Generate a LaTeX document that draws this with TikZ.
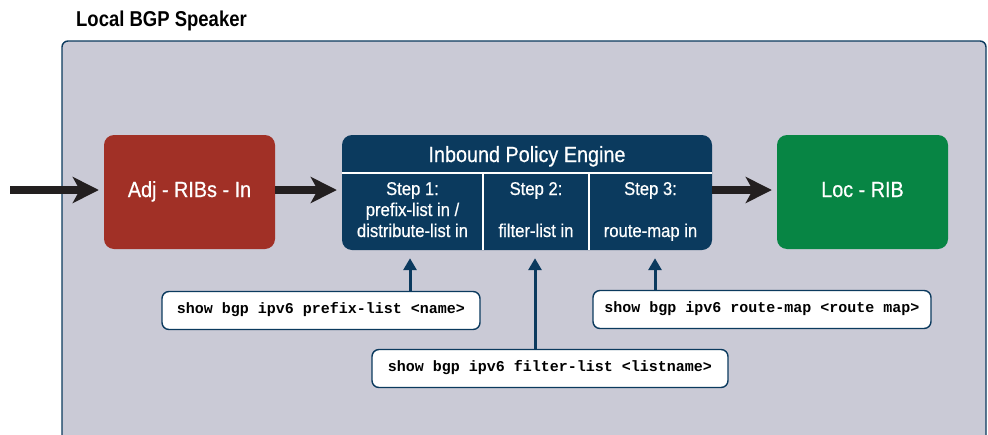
\documentclass[tikz,border=0pt]{standalone}
\usepackage{fontspec}
\setmainfont{Liberation Sans}[FakeStretch=0.9, FakeBold=0.6]
\newfontfamily\titlefont{Liberation Sans}[FakeStretch=0.86]
\newfontfamily\codefont{Liberation Mono}
\usetikzlibrary{arrows.meta}

\definecolor{panelfill}{HTML}{CACAD6}
\definecolor{navy}{HTML}{0B3A5E}
\definecolor{ribred}{HTML}{A13026}
\definecolor{ribgreen}{HTML}{078544}
\definecolor{arrowblack}{HTML}{231F20}

\tikzset{
  x=1pt, y=-1pt,
  ribbox/.style={rounded corners=10pt, inner sep=0pt, text=white,
    minimum width=171pt, minimum height=114pt,
    font=\fontsize{22}{24}\selectfont},
  cmdbox/.style={draw=navy, line width=1.4pt, fill=white, rounded corners=7pt,
    inner sep=0pt, minimum height=38pt, text height=9pt, text depth=3pt,
    font=\codefont\bfseries\fontsize{15}{17}\selectfont},
  steptext/.style={text=white, inner sep=0pt, anchor=base,
    font=\fontsize{18.5}{20}\selectfont},
  flow/.style={draw=arrowblack, line width=8pt,
    -{Stealth[length=26pt,width=26pt,inset=7pt]}, shorten >=5pt},
  query/.style={draw=navy, line width=3pt,
    -{Triangle[length=12pt,width=13pt]}, shorten >=8pt},
}

\begin{document}
\begin{tikzpicture}
\useasboundingbox (0,0) rectangle (988,434);

% speaker panel
\node[anchor=base west, inner sep=0pt, font=\titlefont\bfseries\fontsize{21.5}{24}\selectfont]
  (title) at (76,26) {Local BGP Speaker};
\draw[draw=navy, fill=panelfill, line width=1.4pt, rounded corners=6pt]
  (62,41) rectangle (986,450);

% RIBs
\node[ribbox, fill=ribred] (adj) at (189.5,192) {};
\node[text=white, anchor=base, inner sep=0pt, font=\fontsize{22}{24}\selectfont]
  (adjlabel) at (189.5,197) {Adj - RIBs - In};
\node[ribbox, fill=ribgreen] (loc) at (862.5,192) {};
\node[text=white, anchor=base, inner sep=0pt, font=\fontsize{22}{24}\selectfont]
  (loclabel) at (862.5,197) {Loc - RIB};

% policy engine
\node[fill=navy, rounded corners=10pt, inner sep=0pt,
  minimum width=370pt, minimum height=115pt] (eng) at (527,192.5) {};
\draw[white, line width=2pt] (eng.west |- 0,173) -- (eng.east |- 0,173);
\draw[white, line width=2pt] (483,173) -- (eng.south -| 483,0);
\draw[white, line width=2pt] (589,173) -- (eng.south -| 589,0);
\node[text=white, anchor=base, inner sep=0pt, font=\fontsize{22}{24}\selectfont]
  (engtitle) at (527,162) {Inbound Policy Engine};

\node[steptext] (s1a) at (412.5,195) {Step 1:};
\node[steptext] (s1b) at (412.5,216) {prefix-list in /};
\node[steptext] (s1c) at (412.5,237) {distribute-list in};
\node[steptext] (s2a) at (536,195) {Step 2:};
\node[steptext] (s2c) at (536,237) {filter-list in};
\node[steptext] (s3a) at (650.5,195) {Step 3:};
\node[steptext] (s3c) at (650.5,237) {route-map in};

% route flow
\coordinate (feed) at (10,190);
\draw[flow] (feed) -- (feed -| adj.west);
\draw[flow] (adj.east |- 0,190) -- (eng.west |- 0,190);
\draw[flow] (eng.east |- 0,190) -- (loc.west |- 0,190);

% show commands
\node[cmdbox, minimum width=318pt] (cmd1) at (321,310.5)
  {show bgp ipv6 prefix-list <name>};
\node[cmdbox, minimum width=356pt] (cmd2) at (550,368.5)
  {show bgp ipv6 filter-list <listname>};
\node[cmdbox, minimum width=338pt] (cmd3) at (762,309.5)
  {show bgp ipv6 route-map <route map>};

\draw[query] (cmd1.north -| 410,0) -- (eng.south -| 410,0);
\draw[query] (cmd2.north -| 535,0) -- (eng.south -| 535,0);
\draw[query] (cmd3.north -| 655,0) -- (eng.south -| 655,0);
\end{tikzpicture}
\end{document}
